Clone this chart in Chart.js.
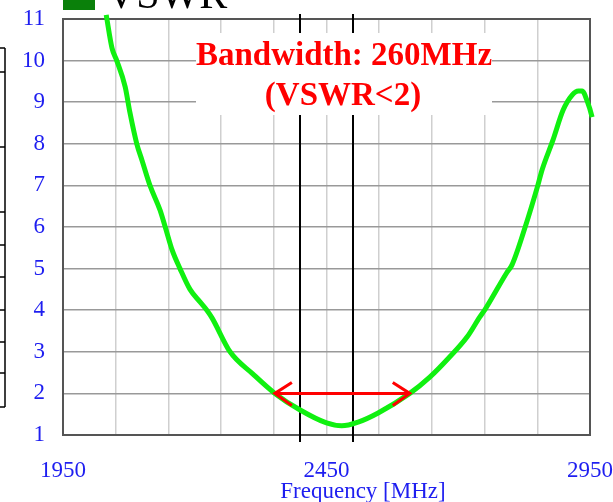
<!DOCTYPE html>
<html>
<head>
<meta charset="utf-8">
<script src="https://cdn.jsdelivr.net/npm/chart.js@4.4.1/dist/chart.umd.min.js"></script>
<style>
  body { margin: 0; background: #fff; }
  canvas { display: block; }
</style>
</head>
<body>
<canvas id="vswrChart" width="613" height="502"></canvas>
<script>
// Datos: frecuencia [MHz] y VSWR
const freqs = [2032, 2043, 2052, 2068, 2077, 2090, 2100, 2115, 2134, 2144, 2157, 2172, 2191, 2210,
    2223, 2233, 2267, 2310, 2352, 2400, 2450, 2479, 2510, 2548, 2608, 2646, 2684, 2717, 2741,
    2751, 2792, 2802, 2827, 2851, 2859, 2880, 2899, 2916, 2928, 2935, 2944, 2954, 2963];
const vswr = [11.1, 10.3, 10.0, 9.37, 8.75, 8.0, 7.6, 7.0, 6.41, 6.0, 5.45, 5.0, 4.5, 4.2,
    4.0, 3.81, 3.0, 2.47, 2.0, 1.6, 1.29, 1.22, 1.31, 1.53, 2.0, 2.39, 2.88, 3.36, 3.84,
    4.02, 4.9, 5.09, 6.0, 7.0, 7.37, 8.1, 8.81, 9.17, 9.27, 9.27, 9.05, 8.64, 8.02];
const xTickLabels = [1950, 2450, 2950];
const markerFreqs = [2400, 2500];      // líneas verticales negras
const bandEdges = [2352, 2608];        // flecha de ancho de banda
const vswrLimit = 2;
const legendLabel = 'VSWR';
const noteLines = ['Bandwidth: 260MHz', '(VSWR<2)'];
const axisTitle = 'Frequency [MHz]';

const serif = "'Liberation Serif', 'Times New Roman', serif";
const blue = '#1e1ef0';

// Plugin para marco, marcadores, caja de texto, flecha y leyenda
const decorations = {
    id: 'decorations',
    beforeDatasetsDraw(chart) {
        const { ctx, chartArea: a, scales: { x, y } } = chart;
        ctx.save();
        // marco del área de trazado
        ctx.strokeStyle = '#555';
        ctx.lineWidth = 2;
        ctx.strokeRect(a.left, a.top, a.right - a.left, a.bottom - a.top);

        // líneas verticales negras
        ctx.strokeStyle = '#000';
        ctx.lineWidth = 2;
        markerFreqs.forEach(f => {
            const px = Math.round(x.getPixelForValue(f));
            ctx.beginPath();
            ctx.moveTo(px, a.top - 5);
            ctx.lineTo(px, a.bottom + 7);
            ctx.stroke();
        });

        // caja blanca con el texto
        ctx.fillStyle = '#fff';
        ctx.fillRect(196, 33, 296, 82);
        ctx.fillStyle = '#ff0000';
        ctx.font = 'bold 33px ' + serif;
        ctx.textAlign = 'center';
        ctx.textBaseline = 'alphabetic';
        ctx.fillText(noteLines[0], 344, 65);
        ctx.fillText(noteLines[1], 343, 105);
        ctx.restore();
    },
    afterDatasetsDraw(chart) {
        const { ctx, scales: { x, y } } = chart;
        const x1 = x.getPixelForValue(bandEdges[0]);
        const x2 = x.getPixelForValue(bandEdges[1]);
        const py = y.getPixelForValue(vswrLimit);
        ctx.save();
        ctx.strokeStyle = '#ff0000';
        ctx.lineWidth = 3;
        ctx.beginPath();
        ctx.moveTo(x1, py);
        ctx.lineTo(x2, py);
        ctx.moveTo(x1 + 17, py - 11);
        ctx.lineTo(x1, py);
        ctx.lineTo(x1 + 17, py + 12);
        ctx.moveTo(x2 - 17, py - 11);
        ctx.lineTo(x2, py);
        ctx.lineTo(x2 - 17, py + 12);
        ctx.stroke();
        ctx.restore();
    },
    afterDraw(chart) {
        const { ctx } = chart;
        ctx.save();
        // leyenda (recortada arriba)
        ctx.fillStyle = '#0a800a';
        ctx.fillRect(63, 0, 32, 10);
        ctx.fillStyle = '#000';
        ctx.font = '42px ' + serif;
        ctx.textAlign = 'left';
        ctx.textBaseline = 'alphabetic';
        ctx.fillText(legendLabel, 106, 8);

        // título del eje X
        ctx.fillStyle = blue;
        ctx.font = '23px ' + serif;
        ctx.textAlign = 'center';
        ctx.fillText(axisTitle, 363, 498);

        // restos de la tabla a la izquierda
        ctx.strokeStyle = '#000';
        ctx.lineWidth = 1.5;
        ctx.beginPath();
        ctx.moveTo(5, 48);
        ctx.lineTo(5, 407);
        [48, 72, 147, 212, 245, 277, 310, 342, 373, 407].forEach(py => {
            ctx.moveTo(0, py);
            ctx.lineTo(5, py);
        });
        ctx.stroke();
        ctx.restore();
    }
};

const ctx = document.getElementById('vswrChart').getContext('2d');
new Chart(ctx, {
    type: 'line',
    data: {
        datasets: [{
            label: legendLabel,
            data: freqs.map((f, i) => ({ x: f, y: vswr[i] })),
            borderColor: '#10f010',
            borderWidth: 5,
            pointRadius: 0,
            cubicInterpolationMode: 'monotone',
            clip: false
        }]
    },
    options: {
        responsive: false,
        animation: false,
        devicePixelRatio: 1,
        layout: { padding: { top: 19, right: 23, left: 0, bottom: 0 } },
        plugins: {
            legend: { display: false },
            tooltip: { enabled: false }
        },
        scales: {
            x: {
                type: 'linear',
                min: 1950,
                max: 2950,
                afterBuildTicks: scale => {
                    scale.ticks = [];
                    for (let v = 1950; v <= 2950; v += 100) scale.ticks.push({ value: v });
                },
                afterFit: scale => {
                    scale.height = 67;
                    scale.paddingLeft = 0;
                    scale.paddingRight = 0;
                },
                grid: { color: '#cfcfcf', lineWidth: 1.5, drawTicks: false },
                border: { display: false },
                ticks: {
                    autoSkip: false,
                    maxRotation: 0,
                    padding: 22,
                    color: blue,
                    font: { family: serif, size: 23 },
                    callback: v => xTickLabels.includes(v) ? String(v) : ''
                }
            },
            y: {
                min: 1,
                max: 11,
                afterFit: scale => {
                    scale.width = 63;
                    scale.paddingTop = 0;
                    scale.paddingBottom = 0;
                },
                grid: { color: '#999', lineWidth: 1.5, drawTicks: false },
                border: { display: false },
                ticks: {
                    stepSize: 1,
                    padding: 18,
                    color: blue,
                    font: { family: serif, size: 23 }
                }
            }
        }
    },
    plugins: [decorations]
});
</script>
</body>
</html>
